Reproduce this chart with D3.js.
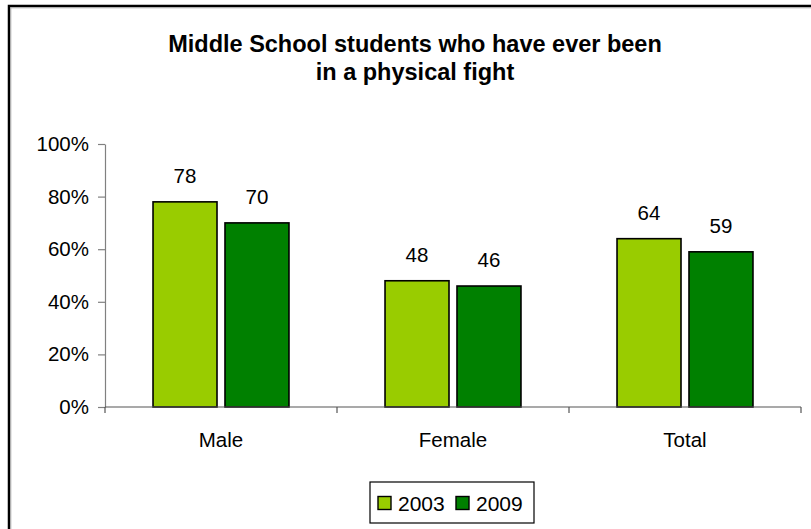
<!DOCTYPE html>
<html><head><meta charset="utf-8">
<script src="https://cdn.jsdelivr.net/npm/d3@7"></script>
<style>body{margin:0;background:#fff}svg{display:block;font-family:Arial,"Liberation Sans",sans-serif}</style>
</head><body><svg id="c" width="811" height="529"></svg>
<script>
const categories = ["Male", "Female", "Total"];
const seriesNames = ["2003", "2009"];
const values2003 = [78, 48, 64];
const values2009 = [70, 46, 59];
const yTicks = [0, 20, 40, 60, 80, 100];
const titleLines = ["Middle School students who have ever been", "in a physical fight"];
const colors = ["#99cc00", "#008000"];

const svg = d3.select("#c");
const W = 811, H = 529;
svg.append("rect").attr("x", 0).attr("y", 0).attr("width", W).attr("height", H).attr("fill", "#fff");
// outer frame
svg.append("rect").attr("x", 9).attr("y", 6).attr("width", 900).attr("height", 700)
  .attr("fill", "none").attr("stroke", "#000").attr("stroke-width", 2.5);
svg.append("rect").attr("x", 10.8).attr("y", 7.8).attr("width", 900).attr("height", 700)
  .attr("fill", "none").attr("stroke", "#aaa").attr("stroke-width", 1);

const x = d3.scaleBand().domain(categories).range([105, 801]).paddingInner(0).paddingOuter(0);
const xs = d3.scaleBand().domain(seriesNames)
  .range([x.bandwidth() * 0.207, x.bandwidth() * 0.793]).paddingInner(0.111);
const y = d3.scaleLinear().domain([0, 100]).range([407, 144]);

// title
svg.append("g").selectAll("text").data(titleLines).join("text")
  .attr("x", 415).attr("y", (d, i) => 52 + i * 28)
  .attr("text-anchor", "middle").attr("font-weight", "bold").attr("font-size", 23.5)
  .attr("fill", "#000").text(d => d);

// y axis
const yAxis = d3.axisLeft(y).tickValues(yTicks).tickFormat(d => d + "%").tickSize(7).tickSizeOuter(0).tickPadding(9);
const gy = svg.append("g").attr("transform", "translate(105,0)").call(yAxis);
gy.select(".domain").attr("stroke", "#808080").attr("stroke-width", 1.2);
gy.selectAll(".tick line").attr("stroke", "#808080").attr("stroke-width", 1.2);
gy.selectAll(".tick text").attr("font-size", 20.5).attr("fill", "#000").attr("font-family", "Arial, 'Liberation Sans', sans-serif");

// bars
const data = categories.map((c, i) => ({c, vals: [values2003[i], values2009[i]]}));
const groups = svg.append("g").selectAll("g").data(data).join("g")
  .attr("transform", d => `translate(${x(d.c)},0)`);
groups.selectAll("rect").data(d => d.vals.map((v, j) => ({s: seriesNames[j], v, j}))).join("rect")
  .attr("x", d => xs(d.s)).attr("width", xs.bandwidth())
  .attr("y", d => y(d.v)).attr("height", d => y(0) - y(d.v))
  .attr("fill", d => colors[d.j]).attr("stroke", "#000").attr("stroke-width", 1.6);
groups.selectAll("text.lbl").data(d => d.vals.map((v, j) => ({s: seriesNames[j], v, j}))).join("text")
  .attr("class", "lbl")
  .attr("x", d => xs(d.s) + xs.bandwidth() / 2).attr("y", d => y(d.v) - 19)
  .attr("text-anchor", "middle").attr("font-size", 20.5).attr("fill", "#000").text(d => d.v);

// x axis
const xAxisG = svg.append("g").attr("transform", "translate(0,407)");
xAxisG.append("line").attr("x1", 105).attr("x2", 801).attr("y1", 0).attr("y2", 0)
  .attr("stroke", "#555").attr("stroke-width", 1.2);
const bounds = categories.map(c => x(c)).concat([x(categories[categories.length - 1]) + x.bandwidth()]);
xAxisG.selectAll("line.tk").data(bounds).join("line").attr("class", "tk")
  .attr("x1", d => d).attr("x2", d => d).attr("y1", 0).attr("y2", 6)
  .attr("stroke", "#555").attr("stroke-width", 1.2);
xAxisG.selectAll("text").data(categories).join("text")
  .attr("x", d => x(d) + x.bandwidth() / 2).attr("y", 40)
  .attr("text-anchor", "middle").attr("font-size", 20.5).attr("fill", "#000").text(d => d);

// legend
const lg = svg.append("g").attr("transform", "translate(370,482)");
lg.append("rect").attr("width", 164).attr("height", 41).attr("fill", "#fff")
  .attr("stroke", "#000").attr("stroke-width", 1.2);
const items = lg.selectAll("g").data(seriesNames).join("g")
  .attr("transform", (d, i) => `translate(${8 + i * 78},0)`);
items.append("rect").attr("x", 0).attr("y", 14.5).attr("width", 13).attr("height", 13)
  .attr("fill", (d, i) => colors[i]).attr("stroke", "#000").attr("stroke-width", 1.4);
items.append("text").attr("x", 20).attr("y", 28.5).attr("font-size", 21).attr("fill", "#000").text(d => d);
</script></body></html>
